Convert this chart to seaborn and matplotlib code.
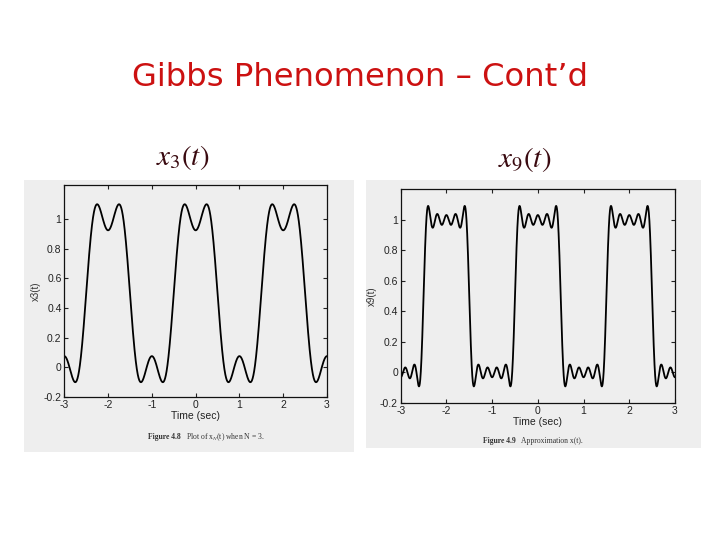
import numpy as np
import pandas as pd
import matplotlib
matplotlib.use("Agg")
import matplotlib.pyplot as plt
from matplotlib.patches import Rectangle
import seaborn as sns

# ---- data: Fourier series of the square wave (period 2, value 1 for |t|<0.5) ----
dc_term = 0.5
harmonics_N3 = [1, 3]
coeffs_N3 = [0.6366, -0.2122]
harmonics_N9 = [1, 3, 5, 7, 9]
coeffs_N9 = [0.6366, -0.2122, 0.1273, -0.0909, 0.0707]
time_range = [-3, 3]
x_ticks = [-3, -2, -1, 0, 1, 2, 3]
y_ticks = [-0.2, 0, 0.2, 0.4, 0.6, 0.8, 1]
y_tick_labels = ["-0.2", "0", "0.2", "0.4", "0.6", "0.8", "1"]

title_text = "Gibbs Phenomenon \u2013 Cont\u2019d"
panel_titles = [r"$x_3(t)$", r"$x_9(t)$"]
y_labels = ["x3(t)", "x9(t)"]
captions = [("Figure 4.8", "Plot of x$_N$(t) when N = 3."),
            ("Figure 4.9", "Approximation x(t).")]

t = np.linspace(time_range[0], time_range[1], 3001)


def synth(harm, coef):
    y = np.full_like(t, dc_term)
    for k, a in zip(harm, coef):
        y = y + a * np.cos(k * np.pi * t)
    return y


df3 = pd.DataFrame({"t": t, "x": synth(harmonics_N3, coeffs_N3)})
df9 = pd.DataFrame({"t": t, "x": synth(harmonics_N9, coeffs_N9)})

sns.set_theme(style="white")
plt.rcParams["font.family"] = ["DejaVu Sans"]
plt.rcParams["mathtext.fontset"] = "stix"

fig = plt.figure(figsize=(7.2, 5.4), dpi=100)
fig.patch.set_facecolor("white")

W, H = 720.0, 540.0
panel_bg = "#eeeeee"
# scanned page backgrounds
fig.patches.append(Rectangle((24 / W, 1 - 452 / H), (354 - 24) / W, (452 - 180) / H,
                             transform=fig.transFigure, facecolor=panel_bg,
                             edgecolor="none", zorder=-5))
fig.patches.append(Rectangle((366 / W, 1 - 448 / H), (701 - 366) / W, (448 - 180) / H,
                             transform=fig.transFigure, facecolor=panel_bg,
                             edgecolor="none", zorder=-5))

fig.text(360 / W, 1 - 77 / H, title_text, color="#cc1111", fontsize=23.2,
         ha="center", va="center", family="DejaVu Sans")

fig.text(183 / W, 1 - 157 / H, panel_titles[0], fontsize=21, ha="center",
         va="center", color="#3a0a10")
fig.text(525 / W, 1 - 160 / H, panel_titles[1], fontsize=21, ha="center",
         va="center", color="#3a0a10")

axes_pos = [
    [64.3 / W, 1 - 397 / H, (327 - 64.3) / W, (397 - 185) / H],
    [400.7 / W, 1 - 403 / H, (675 - 400.7) / W, (403 - 189.3) / H],
]
ylims = [(-0.2, 1.23), (-0.2, 1.2)]
dfs = [df3, df9]
caption_pos = [(190, 437), (525, 441)]

for i in range(2):
    ax = fig.add_axes(axes_pos[i])
    ax.set_zorder(2)
    ax.set_facecolor(panel_bg)
    sns.lineplot(data=dfs[i], x="t", y="x", ax=ax, color="black", linewidth=1.3)
    ax.set_xlim(*time_range)
    ax.set_ylim(*ylims[i])
    ax.set_xticks(x_ticks)
    ax.set_xticklabels([str(v) for v in x_ticks])
    ax.set_yticks(y_ticks)
    ax.set_yticklabels(y_tick_labels)
    ax.tick_params(direction="in", length=3, width=0.8, labelsize=7.5,
                   colors="#222222", top=True, right=True, bottom=True, left=True,
                   pad=2)
    for lab in ax.get_xticklabels() + ax.get_yticklabels():
        lab.set_family("Liberation Sans")
    for s in ax.spines.values():
        s.set_color("#111111")
        s.set_linewidth(0.9)
    ax.set_xlabel("Time (sec)", fontsize=7.5, family="Liberation Sans",
                  color="#222222", labelpad=1)
    ax.set_ylabel(y_labels[i], fontsize=7, family="Liberation Sans",
                  color="#333333", labelpad=2)
    cx, cy = caption_pos[i]
    fig.text(cx / W - 0.005, 1 - cy / H, captions[i][0] + "   ", fontsize=5.5,
             family="Liberation Serif", weight="bold", ha="right", va="center",
             color="#333333")
    fig.text(cx / W - 0.005, 1 - cy / H, captions[i][1], fontsize=5.5,
             family="Liberation Serif", ha="left", va="center", color="#333333")

fig.savefig("out.png", dpi=100, facecolor="white")
